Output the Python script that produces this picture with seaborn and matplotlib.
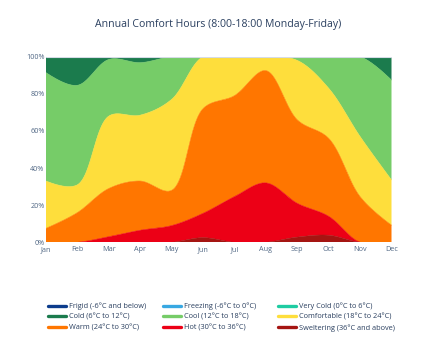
import numpy as np
import matplotlib
matplotlib.use("Agg")
import matplotlib.pyplot as plt
from matplotlib.lines import Line2D
import seaborn as sns

months = ["Jan", "Feb", "Mar", "Apr", "May", "Jun", "Jul", "Aug", "Sep", "Oct", "Nov", "Dec"]

# share of working hours (%) in each comfort band, per month
sweltering = [0, 0, 0, 0, 0, 2.5, 0, 0, 2.8, 3.8, 0, 0]
hot = [0, 0, 3, 6.5, 9, 13.1, 24.6, 32, 18.2, 10.2, 0, 0]
warm = [7.5, 16, 26, 26.5, 19, 56.4, 54.4, 60.5, 45, 42, 24.6, 9.2]
comfortable = [25.5, 15, 39, 35.5, 49, 28, 21, 7.5, 32, 27, 32.4, 24.4]
cool = [58.4, 53.6, 30.5, 28.3, 23, 0, 0, 0, 2, 17, 43, 53.8]
cold = [8.6, 15.4, 1.5, 3.2, 0, 0, 0, 0, 0, 0, 0, 12.6]
very_cold = [0] * 12
freezing = [0] * 12
frigid = [0] * 12

band_names = ["Sweltering (36°C and above)", "Hot (30°C to 36°C)", "Warm (24°C to 30°C)",
              "Comfortable (18°C to 24°C)", "Cool (12°C to 18°C)", "Cold (6°C to 12°C)",
              "Very Cold (0°C to 6°C)", "Freezing (-6°C to 0°C)", "Frigid (-6°C and below)"]
band_values = [sweltering, hot, warm, comfortable, cool, cold, very_cold, freezing, frigid]
band_colors = ["#a51512", "#ec0016", "#ff7600", "#fede3c", "#76cc68", "#1b7b4d",
               "#1fcca2", "#38a8e2", "#0c3c8c"]

y_ticks = [0, 20, 40, 60, 80, 100]
y_ticklabels = ["0%", "20%", "40%", "60%", "80%", "100%"]

W, H = 437, 341
AX_L, AX_R, AX_B, AX_T = 46, 391.5, 242.3, 56.7
SX = (AX_R - AX_L) / 11.0      # pixels per month
SY = (AX_B - AX_T) / 100.0     # pixels per percent


def tangent(p0, p1, p2, smooth=1.0):
    d1 = p0 - p1
    d2 = p2 - p1
    d1a = np.hypot(*d1) ** 0.5
    d2a = np.hypot(*d2) ** 0.5
    num = (d2a * d2a * d1 - d1a * d1a * d2) * smooth
    den1 = 3 * d2a * (d1a + d2a)
    den2 = 3 * d1a * (d1a + d2a)
    a = p1 + (num / den1 if den1 else 0)
    b = p1 - (num / den2 if den2 else 0)
    return a, b


def spline(xs, ys, n=40):
    pts = np.column_stack([np.asarray(xs, float) * SX, np.asarray(ys, float) * SY])
    tans = [tangent(pts[i - 1], pts[i], pts[i + 1]) for i in range(1, len(pts) - 1)]
    t = np.linspace(0, 1, n)[:, None]
    segs = []
    # first segment: quadratic
    p0, c, p1 = pts[0], tans[0][0], pts[1]
    segs.append((1 - t) ** 2 * p0 + 2 * (1 - t) * t * c + t ** 2 * p1)
    for i in range(2, len(pts) - 1):
        p0, c1, c2, p1 = pts[i - 1], tans[i - 2][1], tans[i - 1][0], pts[i]
        segs.append((1 - t) ** 3 * p0 + 3 * (1 - t) ** 2 * t * c1
                    + 3 * (1 - t) * t ** 2 * c2 + t ** 3 * p1)
    p0, c, p1 = pts[-2], tans[-1][1], pts[-1]
    segs.append((1 - t) ** 2 * p0 + 2 * (1 - t) * t * c + t ** 2 * p1)
    curve = np.vstack(segs)
    return curve[:, 0] / SX, curve[:, 1] / SY


sns.set_theme(style="white")
plt.rcParams["font.family"] = ["Open Sans", "DejaVu Sans"]

fig = plt.figure(figsize=(W / 100, H / 100), dpi=100)
ax = fig.add_axes([AX_L / W, 1 - AX_B / H, (AX_R - AX_L) / W, (AX_B - AX_T) / H])

x = np.arange(len(months))
lower_x, lower_y = spline(x, np.zeros(len(x)))
cum = np.zeros(len(x))
for name, vals, col in zip(band_names, band_values, band_colors):
    cum = cum + np.asarray(vals, float)
    ux, uy = spline(x, cum)
    ax.fill(np.concatenate([ux, lower_x[::-1]]), np.concatenate([uy, lower_y[::-1]]),
            color=col, linewidth=0, zorder=2)
    sns.lineplot(x=ux, y=uy, sort=False, color=col, linewidth=0.4, ax=ax, zorder=2.1)
    lower_x, lower_y = ux, uy

ax.axhline(100, color="#d5dbe6", linewidth=0.8, zorder=3)

ax.set_xlim(0, 11)
ax.set_ylim(0, 100)
ax.set_xticks(x)
ax.set_xticklabels(months)
ax.set_yticks(y_ticks)
ax.set_yticklabels(y_ticklabels)
ax.tick_params(axis="both", labelsize=5.2, colors="#506784", length=0, pad=1)
ax.tick_params(axis="x", pad=2.6)
for s in ax.spines.values():
    s.set_visible(False)
ax.set_xlabel("")
ax.set_ylabel("")

fig.text(218.5 / W, 1 - 25 / H, "Annual Comfort Hours (8:00-18:00 Monday-Friday)",
         ha="center", va="center", fontsize=7.6, color="#2a3f5f")

# legend laid out in three columns, row-wise in order Frigid → Sweltering
legend_order = band_names[::-1]
legend_colors = band_colors[::-1]
col_x = [48, 163, 278]
for c in range(3):
    idx = [c, c + 3, c + 6]
    handles = [Line2D([0], [0], color=legend_colors[i], linewidth=2.4) for i in idx]
    labels = [legend_order[i] for i in idx]
    fig.legend(handles, labels, loc="upper left",
               bbox_to_anchor=(col_x[c] / W, 1 - 302.5 / H),
               frameon=False, fontsize=5.3, handlelength=2.4, handletextpad=0.4,
               borderpad=0, borderaxespad=0, labelspacing=0.45, labelcolor="#2a3f5f")

fig.savefig("out.png", dpi=100, facecolor="white")
